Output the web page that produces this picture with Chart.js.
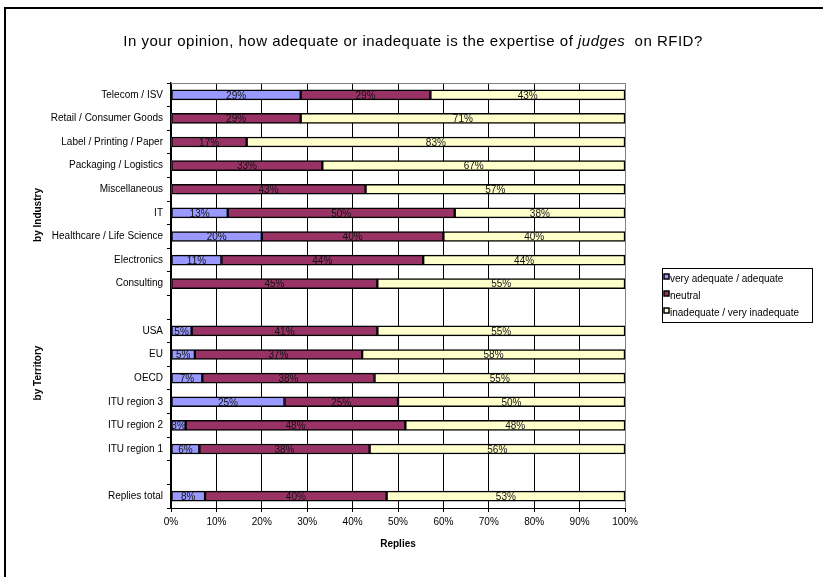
<!DOCTYPE html>
<html>
<head>
<meta charset="utf-8">
<script src="https://cdn.jsdelivr.net/npm/chart.js@4.4.1/dist/chart.umd.min.js"></script>
<style>
  html, body { margin: 0; padding: 0; background: #fff; }
  canvas { display: block; }
</style>
</head>
<body>
<canvas id="rfidChart" width="823" height="577"></canvas>
<script>
// categories top to bottom, '' = empty row between groups
const categories = ['Telecom / ISV', 'Retail / Consumer Goods', 'Label / Printing / Paper', 'Packaging / Logistics',
    'Miscellaneous', 'IT', 'Healthcare / Life Science', 'Electronics', 'Consulting', '',
    'USA', 'EU', 'OECD', 'ITU region 3', 'ITU region 2', 'ITU region 1', '', 'Replies total'];

const seriesNames = ['very adequate / adequate', 'neutral', 'inadequate / very inadequate'];

// shares in percent
const adequate   = [28.57, 0, 0, 0, 0, 12.5, 20, 11.11, 0, null, 4.55, 5.26, 6.9, 25, 3.23, 6.25, null, 7.5];
const neutral    = [28.57, 28.57, 16.67, 33.33, 42.86, 50, 40, 44.44, 45.45, null, 40.91, 36.84, 37.93, 25, 48.39, 37.5, null, 40];
const inadequate = [42.86, 71.43, 83.33, 66.67, 57.14, 37.5, 40, 44.44, 54.55, null, 54.55, 57.89, 55.17, 50, 48.39, 56.25, null, 52.5];

const xTicks = [0, 10, 20, 30, 40, 50, 60, 70, 80, 90, 100];

const groupLabels = [
    { text: 'by Industry', y: 215 },
    { text: 'by Territory', y: 373 }
];

const FONT = "'Liberation Sans', Arial, sans-serif";

function MakeDataset(label, data, color) {
    return {
        label: label,
        data: data,
        backgroundColor: color,
        borderColor: '#000',
        borderWidth: (ctx) => ctx.raw ? 1.5 : 0,
        borderSkipped: false,
        barThickness: 10
    };
}

const framePlugin = {
    id: 'frame',
    beforeDraw(chart) {
        const c = chart.ctx;
        c.save();
        c.fillStyle = '#fff';
        c.fillRect(0, 0, chart.width, chart.height);
        c.strokeStyle = '#000';
        c.lineWidth = 2;
        c.beginPath();
        c.moveTo(5, chart.height);
        c.lineTo(5, 8);
        c.lineTo(chart.width, 8);
        c.stroke();

        // title with the italic word
        c.letterSpacing = '0.5px';
        const parts = [
            { t: 'In your opinion, how adequate or inadequate is the expertise of ', f: '15px ' + FONT },
            { t: 'judges', f: 'italic 15px ' + FONT },
            { t: '  on RFID?', f: '15px ' + FONT }
        ];
        let total = 0;
        parts.forEach(p => { c.font = p.f; p.w = c.measureText(p.t).width; total += p.w; });
        let x = 413 - total / 2;
        c.fillStyle = '#000';
        c.textBaseline = 'middle';
        c.textAlign = 'left';
        parts.forEach(p => { c.font = p.f; c.fillText(p.t, x, 42); x += p.w; });
        c.letterSpacing = '0px';

        // group labels on the left
        c.font = 'bold 10px ' + FONT;
        c.textAlign = 'center';
        groupLabels.forEach(g => {
            c.save();
            c.translate(38, g.y);
            c.rotate(-Math.PI / 2);
            c.fillText(g.text, 0, 0);
            c.restore();
        });
        c.restore();
    },
    beforeDatasetsDraw(chart) {
        const a = chart.chartArea;
        const c = chart.ctx;
        c.save();
        c.strokeStyle = '#808080';
        c.lineWidth = 1;
        c.beginPath();
        c.moveTo(a.left, a.top + 0.5);
        c.lineTo(a.right + 0.5, a.top + 0.5);
        c.lineTo(a.right + 0.5, a.bottom);
        c.stroke();
        c.restore();
    },
    afterDatasetsDraw(chart) {
        const c = chart.ctx;
        c.save();
        c.font = '10px ' + FONT;
        c.fillStyle = '#111';
        c.textAlign = 'center';
        c.textBaseline = 'middle';
        chart.data.datasets.forEach((ds, i) => {
            chart.getDatasetMeta(i).data.forEach((bar, j) => {
                const v = ds.data[j];
                if (!v) return;
                const p = bar.getCenterPoint();
                c.fillText(Math.round(v) + '%', p.x, p.y + 1);
            });
        });
        c.restore();
    },
    afterDraw(chart) {
        // legend box
        const c = chart.ctx;
        c.save();
        c.fillStyle = '#fff';
        c.fillRect(662, 268, 150, 54);
        c.strokeStyle = '#000';
        c.lineWidth = 1;
        c.strokeRect(662.5, 268.5, 150, 54);
        c.font = '10px ' + FONT;
        c.textBaseline = 'middle';
        c.textAlign = 'left';
        chart.data.datasets.forEach((ds, i) => {
            const y = 279 + i * 17;
            c.fillStyle = ds.backgroundColor;
            c.fillRect(664, y - 5, 5, 5);
            c.strokeStyle = '#000';
            c.lineWidth = 1.5;
            c.strokeRect(664, y - 5, 5, 5);
            c.fillStyle = '#000';
            c.fillText(ds.label, 670, y);
        });
        c.restore();
    }
};

const context = document.getElementById('rfidChart').getContext('2d');

const rfidChart = new Chart(context, {
    type: 'bar',
    data: {
        labels: categories,
        datasets: [
            MakeDataset(seriesNames[0], adequate, '#9999FF'),
            MakeDataset(seriesNames[1], neutral, '#993366'),
            MakeDataset(seriesNames[2], inadequate, '#FFFFCC')
        ]
    },
    options: {
        indexAxis: 'y',
        responsive: false,
        animation: false,
        layout: { padding: { top: 83, right: 198, bottom: 0, left: 0 } },
        plugins: {
            legend: { display: false },
            title: { display: false },
            tooltip: { enabled: false }
        },
        scales: {
            x: {
                stacked: true,
                min: 0,
                max: 100,
                afterBuildTicks: (scale) => { scale.ticks = xTicks.map(v => ({ value: v })); },
                afterFit: (scale) => { scale.height = 69; },
                ticks: {
                    callback: (v) => v + '%',
                    color: '#000',
                    font: { family: FONT, size: 10 },
                    padding: 4,
                    maxRotation: 0
                },
                grid: {
                    color: (ctx) => ctx.tick && ctx.tick.value === 100 ? '#808080' : '#000',
                    tickLength: 4,
                    tickColor: '#000'
                },
                border: { color: '#000', width: 1 },
                title: {
                    display: true,
                    text: 'Replies',
                    color: '#000',
                    font: { family: FONT, size: 10, weight: 'bold' },
                    padding: { top: 6, bottom: 27 }
                }
            },
            y: {
                stacked: true,
                afterFit: (scale) => { scale.width = 171; },
                ticks: {
                    color: '#000',
                    font: { family: FONT, size: 10 },
                    padding: 4,
                    autoSkip: false
                },
                grid: {
                    offset: true,
                    drawOnChartArea: false,
                    tickLength: 4,
                    color: '#000'
                },
                border: { color: '#000', width: 1.5 }
            }
        }
    },
    plugins: [framePlugin]
});
</script>
</body>
</html>
